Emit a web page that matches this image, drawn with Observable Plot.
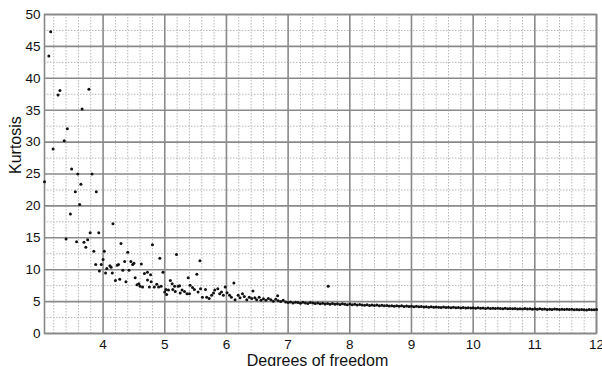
<!DOCTYPE html>
<html>
<head>
<meta charset="utf-8">
<script src="https://cdn.jsdelivr.net/npm/d3@7"></script>
<script src="https://cdn.jsdelivr.net/npm/@observablehq/plot@0.6"></script>
<style>
  html, body { margin: 0; padding: 0; background: #fff; }
  #chart { width: 602px; height: 366px; overflow: hidden; }
</style>
</head>
<body>
<div id="chart"></div>
<script>
// Scattered sample kurtosis values (small degrees of freedom)
const dfScatter = [
  3.05, 3.12, 3.15, 3.19, 3.27, 3.30, 3.37, 3.40, 3.42, 3.47, 3.49, 3.55, 3.57, 3.59, 3.62, 3.64, 3.66, 3.69, 3.72, 3.75,
  3.77, 3.79, 3.82, 3.85, 3.88, 3.89, 3.93, 3.94, 3.97, 4.00, 4.02, 4.04, 4.06, 4.11, 4.13, 4.15, 4.16, 4.20, 4.23, 4.25,
  4.27, 4.29, 4.32, 4.35, 4.37, 4.40, 4.42, 4.45, 4.48, 4.50, 4.52, 4.55, 4.58, 4.60, 4.62, 4.64, 4.67, 4.72, 4.72, 4.75,
  4.77, 4.78, 4.80, 4.83, 4.87, 4.90, 4.92, 4.94, 4.97, 5.00, 5.02, 5.03, 5.06, 5.09, 5.12, 5.13, 5.16, 5.17, 5.19, 5.22,
  5.24, 5.25, 5.28, 5.32, 5.36, 5.38, 5.40, 5.41, 5.45, 5.48, 5.52, 5.54, 5.57, 5.58, 5.61, 5.66, 5.68, 5.72, 5.76, 5.79,
  5.81, 5.86, 5.89, 5.92, 5.95, 5.98, 6.01, 6.05, 6.08, 6.12, 6.14, 6.19, 6.22, 6.26, 6.29, 6.33, 6.37, 6.41, 6.43, 6.46,
  6.49, 6.53, 6.56, 6.83, 7.65
];
const kurtScatter = [
  23.8, 43.5, 47.3, 28.9, 37.4, 38.1, 30.2, 14.8, 32.1, 18.75, 25.8, 22.2, 14.4, 25.0, 20.2, 23.4, 35.2, 14.3, 13.5, 14.7,
  38.3, 15.8, 25.0, 12.9, 10.8, 22.2, 15.8, 9.8, 10.8, 11.6, 12.9, 9.5, 10.2, 10.6, 10.4, 9.5, 17.2, 8.3, 10.7, 10.8,
  8.5, 14.1, 9.9, 11.3, 8.1, 12.75, 9.9, 11.3, 10.8, 11.0, 8.75, 7.65, 7.8, 7.4, 10.9, 7.3, 9.4, 9.6, 8.4, 7.3,
  9.2, 8.1, 13.9, 7.3, 7.7, 7.3, 11.8, 7.4, 9.6, 6.5, 6.9, 6.1, 6.8, 8.3, 7.8, 6.9, 7.4, 6.6, 12.4, 7.4,
  7.5, 6.35, 6.8, 6.6, 6.25, 8.75, 6.25, 7.55, 7.2, 6.9, 9.3, 6.5, 11.4, 7.0, 5.7, 6.9, 5.7, 5.5, 6.0, 6.35,
  6.8, 7.0, 6.25, 6.5, 6.0, 7.3, 6.4, 6.0, 5.7, 7.9, 5.3, 6.0, 5.6, 6.25, 5.8, 5.3, 5.7, 5.5, 6.65, 5.6,
  5.3, 5.7, 5.2, 5.9, 7.4
];
// Dense band (larger degrees of freedom)
const dfBand = [
  6.60, 6.64, 6.68, 6.72, 6.76, 6.80, 6.84, 6.88, 6.92, 6.96, 7.00,
  7.04, 7.08, 7.12, 7.16, 7.20, 7.24, 7.28, 7.32, 7.36, 7.40, 7.44, 7.48,
  7.52, 7.56, 7.60, 7.64, 7.68, 7.72, 7.76, 7.80, 7.84, 7.88, 7.92, 7.96, 8.00,
  8.04, 8.08, 8.12, 8.16, 8.20, 8.24, 8.28, 8.32, 8.36, 8.40, 8.44, 8.48,
  8.52, 8.56, 8.60, 8.64, 8.68, 8.72, 8.76, 8.80, 8.84, 8.88, 8.92, 8.96, 9.00,
  9.04, 9.08, 9.12, 9.16, 9.20, 9.24, 9.28, 9.32, 9.36, 9.40, 9.44, 9.48,
  9.52, 9.56, 9.60, 9.64, 9.68, 9.72, 9.76, 9.80, 9.84, 9.88, 9.92, 9.96, 10.00,
  10.04, 10.08, 10.12, 10.16, 10.20, 10.24, 10.28, 10.32, 10.36, 10.40, 10.44, 10.48,
  10.52, 10.56, 10.60, 10.64, 10.68, 10.72, 10.76, 10.80, 10.84, 10.88, 10.92, 10.96, 11.00,
  11.04, 11.08, 11.12, 11.16, 11.20, 11.24, 11.28, 11.32, 11.36, 11.40, 11.44, 11.48,
  11.52, 11.56, 11.60, 11.64, 11.68, 11.72, 11.76, 11.80, 11.84, 11.88, 11.92, 11.96, 12.00
];
const kurtBand = [
  5.45, 5.2, 5.5, 5.3, 5.05, 5.35, 5.15, 5.0, 5.2, 4.95, 4.85,
  4.95, 4.8, 4.9, 4.85, 4.75, 4.9, 4.8, 4.72, 4.85, 4.78, 4.7, 4.8,
  4.68, 4.75, 4.62, 4.7, 4.6, 4.72, 4.58, 4.65, 4.55, 4.68, 4.6, 4.52, 4.62,
  4.5, 4.58, 4.45, 4.55, 4.48, 4.42, 4.52, 4.4, 4.47, 4.38, 4.45, 4.36,
  4.42, 4.33, 4.4, 4.3, 4.36, 4.28, 4.35, 4.26, 4.33, 4.25, 4.3, 4.22, 4.28,
  4.2, 4.26, 4.18, 4.22, 4.15, 4.2, 4.12, 4.18, 4.1, 4.16, 4.12, 4.08,
  4.14, 4.08, 4.12, 4.05, 4.1, 4.03, 4.08, 4.01, 4.06, 4.0, 4.04, 3.98, 4.02,
  3.97, 4.02, 3.95, 4.0, 3.93, 3.98, 3.92, 3.96, 3.9, 3.95, 3.91, 3.88,
  3.94, 3.88, 3.92, 3.86, 3.9, 3.84, 3.89, 3.85, 3.9, 3.83, 3.87, 3.82, 3.86,
  3.81, 3.86, 3.79, 3.84, 3.78, 3.82, 3.77, 3.83, 3.79, 3.76, 3.81, 3.78,
  3.8, 3.75, 3.79, 3.73, 3.77, 3.72, 3.78, 3.74, 3.7, 3.76, 3.73, 3.71, 3.75
];
const xTicks = [4, 5, 6, 7, 8, 9, 10, 11, 12];
const yTicks = [0, 5, 10, 15, 20, 25, 30, 35, 40, 45, 50];
const xLabel = "Degrees of freedom";
const yLabel = "Kurtosis";

const points = dfScatter.map((d, i) => ({df: d, k: kurtScatter[i]}))
  .concat(dfBand.map((d, i) => ({df: d, k: kurtBand[i]})));
const minorX = d3.range(16, 60).map(i => i / 5).filter(v => !Number.isInteger(v));
const minorY = d3.range(0, 20).map(i => i * 2.5 + 2.5).filter(v => v % 5 !== 0);

const chart = Plot.plot({
  width: 602,
  height: 366,
  marginLeft: 44,
  marginRight: 6,
  marginTop: 14,
  marginBottom: 33,
  x: {domain: [3.05, 12]},
  y: {domain: [0, 50]},
  style: {fontFamily: "'Liberation Sans', Arial, sans-serif", fontSize: "13.5px", background: "#fff", color: "#111"},
  marks: [
    Plot.gridX(minorX, {stroke: "#b8b8b8", strokeOpacity: 1, strokeWidth: 1, strokeDasharray: "1.5,1.5"}),
    Plot.gridY(minorY, {stroke: "#b8b8b8", strokeOpacity: 1, strokeWidth: 1, strokeDasharray: "1.5,1.5"}),
    Plot.gridX(xTicks, {stroke: "#8a8a8a", strokeOpacity: 1, strokeWidth: 1.6}),
    Plot.gridY(yTicks, {stroke: "#8a8a8a", strokeOpacity: 1, strokeWidth: 1.6}),
    Plot.frame({stroke: "#888", strokeWidth: 1.6}),
    Plot.dot(points, {x: "df", y: "k", r: 1.5, fill: "#111", stroke: "none"}),
    Plot.axisX(xTicks, {tickSize: 0, tickPadding: 6, label: null, fontSize: 13.5}),
    Plot.axisY(yTicks, {tickSize: 0, tickPadding: 4, label: null, fontSize: 13.5}),
    Plot.text([xLabel], {frameAnchor: "bottom", lineAnchor: "bottom", dy: 32, dx: -3, fontSize: 16}),
    Plot.text([yLabel], {frameAnchor: "left", lineAnchor: "bottom", rotate: -90, dx: -24, fontSize: 16})
  ]
});
document.getElementById("chart").appendChild(chart);
</script>
</body>
</html>
